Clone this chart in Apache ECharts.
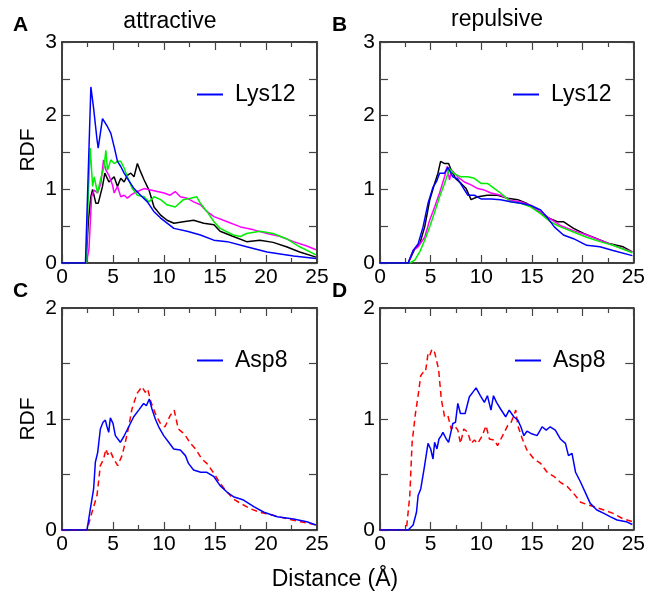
<!DOCTYPE html>
<html>
<head>
<meta charset="utf-8">
<script src="https://cdn.jsdelivr.net/npm/echarts@6/dist/echarts.min.js"></script>
<style>
  html, body { margin: 0; padding: 0; background: #fff; }
  #chart { width: 648px; height: 591px; }
</style>
</head>
<body>
<div id="chart"></div>
<script>
// RDF curves, [distance (Å), g(r)]
const attrBlue = [[0,0],[2.3,0],[2.5,0.9],[2.83,2.39],[3.1,2.1],[3.42,1.69],[3.55,1.56],[3.97,1.96],[4.13,1.98],[4.46,1.85],[4.79,1.76],[5.11,1.58],[5.44,1.38],[5.76,1.31],[6.09,1.22],[6.41,1.15],[7.06,1.01],[7.7,0.92],[8.37,0.83],[9.0,0.70],[9.67,0.61],[10.97,0.47],[12.27,0.43],[13.57,0.38],[14.88,0.31],[16.2,0.29],[18.1,0.22],[20.1,0.15],[22.7,0.095],[24.9,0.06]];
const attrBlack = [[2.35,0],[2.6,0.6],[2.83,0.9],[3.0,1.0],[3.32,0.81],[3.55,0.81],[3.97,1.04],[4.2,1.22],[4.6,1.1],[5.11,1.17],[5.44,1.04],[5.76,1.15],[6.09,1.1],[6.41,1.19],[6.74,1.22],[7.06,1.17],[7.39,1.35],[7.7,1.24],[8.04,1.13],[8.53,0.99],[9.02,0.76],[9.67,0.65],[10.3,0.58],[10.97,0.54],[11.9,0.56],[12.9,0.58],[13.9,0.54],[14.9,0.52],[15.5,0.43],[16.8,0.36],[18.1,0.29],[19.4,0.31],[20.7,0.28],[22.0,0.22],[23.3,0.15],[24.9,0.08]];
const attrGreen = [[2.35,0],[2.6,1.0],[2.77,1.56],[3.0,1.04],[3.16,1.17],[3.48,0.95],[3.81,1.15],[4.13,1.31],[4.3,1.53],[4.46,1.26],[4.79,1.40],[5.11,1.35],[5.44,1.38],[5.76,1.38],[6.09,1.29],[6.41,1.17],[6.9,1.01],[7.39,0.92],[8.04,0.90],[8.53,0.83],[9.02,0.9],[9.67,0.86],[10.3,0.79],[11.1,0.76],[11.9,0.86],[12.6,0.88],[13.2,0.9],[13.57,0.81],[14.2,0.70],[14.9,0.56],[15.5,0.47],[16.8,0.38],[17.5,0.36],[18.1,0.40],[19.4,0.43],[20.7,0.40],[22.0,0.33],[23.3,0.22],[24.9,0.11]];
const attrMagenta = [[2.4,0],[2.65,0.2],[2.9,0.9],[3.16,0.99],[3.48,0.95],[3.81,1.08],[4.07,1.40],[4.3,1.26],[4.6,1.19],[4.95,1.06],[5.11,0.95],[5.44,1.04],[5.76,0.9],[6.09,0.92],[6.41,0.88],[6.74,0.92],[7.06,0.95],[7.39,0.97],[8.04,1.01],[8.7,0.99],[9.34,0.97],[10.0,0.95],[10.6,0.92],[11.1,0.97],[11.6,0.9],[12.27,0.88],[12.9,0.83],[13.57,0.79],[14.2,0.70],[14.9,0.63],[16.2,0.56],[17.5,0.49],[18.8,0.45],[20.1,0.40],[21.4,0.36],[22.7,0.29],[24.0,0.23],[24.9,0.18]];

const repBlue = [[0,0],[2.78,0],[3.27,0.17],[3.76,0.26],[4.25,0.49],[4.74,0.81],[5.23,1.03],[5.56,1.10],[5.88,1.22],[6.37,1.22],[6.7,1.30],[7.19,1.17],[7.68,1.14],[8.17,1.03],[8.66,0.92],[9.31,0.92],[9.97,0.87],[10.95,0.87],[11.9,0.86],[12.9,0.83],[13.9,0.81],[14.9,0.78],[15.85,0.72],[16.5,0.62],[17.2,0.49],[18.1,0.38],[19.1,0.33],[20.4,0.24],[21.7,0.22],[23.0,0.17],[24.9,0.10]];
const repBlack = [[2.78,0],[3.43,0.19],[3.92,0.26],[4.41,0.49],[4.9,0.85],[5.39,1.08],[5.72,1.22],[5.98,1.38],[6.37,1.35],[6.77,1.35],[7.03,1.26],[7.5,1.14],[8.0,1.08],[8.5,1.01],[8.99,0.86],[9.64,0.90],[10.6,0.92],[11.6,0.92],[12.6,0.88],[13.6,0.86],[14.5,0.81],[15.5,0.71],[16.5,0.62],[17.5,0.56],[18.1,0.56],[19.1,0.47],[20.1,0.40],[21.4,0.33],[22.7,0.26],[24.0,0.22],[24.9,0.15]];
const repMagenta = [[2.78,0],[3.27,0.17],[3.76,0.22],[4.41,0.35],[4.9,0.58],[5.39,0.76],[5.88,0.95],[6.37,1.17],[6.63,1.31],[6.86,1.13],[7.09,1.26],[7.68,1.17],[8.33,1.10],[8.99,1.06],[9.64,1.01],[10.3,0.99],[10.95,0.95],[11.9,0.92],[12.9,0.85],[13.9,0.83],[14.9,0.78],[15.85,0.69],[16.8,0.60],[17.8,0.51],[19.1,0.44],[20.4,0.38],[21.7,0.31],[23.0,0.24],[24.9,0.15]];
const repGreen = [[2.95,0],[3.43,0.04],[3.92,0.15],[4.41,0.31],[4.9,0.49],[5.39,0.69],[5.88,0.90],[6.37,1.08],[6.86,1.28],[7.35,1.21],[8.0,1.17],[8.66,1.17],[9.31,1.15],[9.97,1.08],[10.6,1.08],[11.3,1.01],[11.9,0.95],[12.9,0.83],[13.9,0.81],[14.9,0.76],[15.85,0.67],[16.8,0.56],[17.8,0.49],[19.1,0.42],[20.4,0.35],[21.7,0.29],[23.0,0.24],[24.9,0.14]];

const attrAspBlue = [[0,0],[2.45,0],[2.78,0.19],[3.1,0.37],[3.27,0.61],[3.5,0.70],[3.76,0.91],[4.02,0.97],[4.25,0.99],[4.41,0.93],[4.58,0.88],[4.74,1.01],[5.0,0.96],[5.23,0.85],[5.72,0.79],[6.05,0.84],[6.54,0.93],[7.03,1.02],[7.52,1.08],[8.0,1.14],[8.27,1.12],[8.56,1.18],[8.82,1.09],[9.15,1.0],[9.48,0.93],[9.97,0.85],[10.46,0.79],[10.95,0.73],[11.6,0.72],[12.1,0.67],[12.4,0.60],[12.9,0.54],[13.6,0.52],[14.2,0.52],[14.9,0.48],[15.5,0.40],[16.2,0.34],[16.8,0.30],[17.8,0.27],[18.8,0.21],[19.8,0.16],[21.1,0.12],[22.7,0.10],[24.0,0.075],[24.9,0.045]];
const attrAspRed = [[0,0],[2.45,0],[2.94,0.16],[3.43,0.31],[3.76,0.58],[4.08,0.64],[4.31,0.73],[4.48,0.68],[4.74,0.71],[5.07,0.64],[5.46,0.58],[5.88,0.67],[6.21,0.79],[6.54,0.93],[6.86,1.09],[7.35,1.23],[7.84,1.29],[8.17,1.24],[8.4,1.27],[8.73,1.15],[9.15,1.05],[9.64,0.96],[10.1,0.93],[10.6,1.03],[11.0,1.08],[11.4,0.91],[11.8,0.88],[12.1,0.85],[12.6,0.78],[13.1,0.73],[13.7,0.64],[14.2,0.60],[14.9,0.51],[15.5,0.42],[16.2,0.34],[16.8,0.28],[17.5,0.24],[18.5,0.19],[19.4,0.16],[20.8,0.13],[22.1,0.10],[23.4,0.075],[24.9,0.045]];

const repAspBlue = [[0,0],[2.78,0],[3.27,0.045],[3.6,0.16],[3.76,0.31],[4.02,0.37],[4.35,0.55],[4.74,0.78],[5.0,0.73],[5.23,0.64],[5.39,0.79],[5.62,0.73],[5.82,0.82],[6.05,0.85],[6.21,0.88],[6.54,0.82],[6.77,0.79],[7.19,0.96],[7.45,0.97],[7.68,1.14],[7.94,1.05],[8.4,1.05],[8.82,1.20],[9.15,1.24],[9.48,1.28],[9.9,1.21],[10.3,1.15],[10.6,1.21],[10.95,1.08],[11.2,1.21],[11.5,1.15],[11.9,1.09],[12.4,1.02],[12.75,1.08],[13.2,1.02],[13.6,0.99],[13.9,0.93],[14.2,0.85],[14.5,0.89],[14.9,0.87],[15.5,0.85],[16.0,0.93],[16.4,0.90],[16.8,0.93],[17.3,0.90],[17.8,0.82],[18.3,0.78],[18.6,0.67],[18.95,0.69],[19.3,0.52],[19.8,0.43],[20.3,0.33],[20.75,0.24],[21.4,0.18],[22.1,0.15],[22.7,0.12],[23.4,0.09],[24.3,0.075],[24.9,0.05]];
const repAspRed = [[0,0],[2.6,0],[2.94,0.31],[3.17,0.79],[3.5,1.05],[3.76,1.21],[4.02,1.39],[4.25,1.42],[4.48,1.42],[4.74,1.59],[4.9,1.57],[5.13,1.63],[5.39,1.60],[5.78,1.45],[6.05,1.18],[6.37,1.02],[6.7,1.03],[7.03,0.91],[7.35,0.94],[7.68,0.90],[7.94,0.78],[8.27,0.91],[8.66,0.88],[8.99,0.78],[9.31,0.81],[9.64,0.78],[10.1,0.85],[10.46,0.94],[10.8,0.82],[11.3,0.81],[11.6,0.76],[12.1,0.85],[12.6,0.94],[12.9,0.96],[13.4,1.08],[13.6,0.94],[14.05,0.82],[14.5,0.72],[15.2,0.64],[15.85,0.60],[16.5,0.52],[17.2,0.48],[17.8,0.43],[18.5,0.39],[19.1,0.33],[19.8,0.25],[20.75,0.22],[22.1,0.18],[23.0,0.15],[24.0,0.10],[24.9,0.075]];

const yMaxTop = 3, yMaxBottom = 2;

const FONT = 'Liberation Sans';
const panels = [
  { left: 62, top: 42, height: 221, ymax: yMaxTop },
  { left: 380, top: 42, height: 221, ymax: yMaxTop },
  { left: 62, top: 308, height: 222, ymax: yMaxBottom },
  { left: 380, top: 308, height: 222, ymax: yMaxBottom }
];

const grid = [], xAxis = [], yAxis = [];
panels.forEach((p, i) => {
  grid.push({ left: p.left, top: p.top, width: 255, height: p.height });
  const line = { show: true, onZero: false, lineStyle: { color: '#000', width: 1.5 } };
  const tickStyle = { color: '#444', width: 1.2 };
  ['bottom', 'top'].forEach(pos => {
    xAxis.push({
      type: 'value', gridIndex: i, position: pos, min: 0, max: 25, interval: 5,
      axisLine: line,
      axisTick: { show: true, inside: true, length: 8, lineStyle: tickStyle },
      minorTick: { show: true, splitNumber: 2, length: 5, lineStyle: tickStyle },
      axisLabel: { show: pos === 'bottom', color: '#000', fontFamily: FONT, fontSize: 21, margin: 4 },
      splitLine: { show: false }
    });
  });
  ['left', 'right'].forEach(pos => {
    yAxis.push({
      type: 'value', gridIndex: i, position: pos, min: 0, max: p.ymax, interval: 1,
      axisLine: line,
      axisTick: { show: true, inside: true, length: 8, lineStyle: tickStyle },
      minorTick: { show: true, splitNumber: 2, length: 8, lineStyle: tickStyle },
      axisLabel: { show: pos === 'left', color: '#000', fontFamily: FONT, fontSize: 21, margin: 5 },
      splitLine: { show: false }
    });
  });
});

function curve(name, data, panel, color, dashed) {
  return {
    name: name, type: 'line', data: data, xAxisIndex: panel * 2, yAxisIndex: panel * 2,
    showSymbol: false, symbol: 'none', silent: true, animation: false,
    lineStyle: { color: color, width: 1.5, type: dashed ? [6, 4] : 'solid' },
    itemStyle: { color: color }
  };
}

const series = [
  curve('A black', attrBlack, 0, '#000000'),
  curve('A magenta', attrMagenta, 0, '#ff00ff'),
  curve('A green', attrGreen, 0, '#00ee00'),
  curve('Lys12', attrBlue, 0, '#0000ff'),
  curve('B black', repBlack, 1, '#000000'),
  curve('B magenta', repMagenta, 1, '#ff00ff'),
  curve('B green', repGreen, 1, '#00ee00'),
  curve('Lys12', repBlue, 1, '#0000ff'),
  curve('C red', attrAspRed, 2, '#ff0000', true),
  curve('Asp8', attrAspBlue, 2, '#0000ff'),
  curve('D red', repAspRed, 3, '#ff0000', true),
  curve('Asp8', repAspBlue, 3, '#0000ff')
];

function legendAt(left, top, name) {
  return {
    left: left, top: top, data: [name], selectedMode: false,
    icon: 'rect', itemWidth: 26, itemHeight: 2, itemGap: 0,
    textStyle: { fontFamily: FONT, fontSize: 23, color: '#000', padding: [0, 0, 0, 7] }
  };
}

const txt = (x, y, s, size, extra) => ({
  type: 'text', x: x, y: y,
  style: Object.assign({ text: s, fontFamily: FONT, fontSize: size, fill: '#000', verticalAlign: 'top' }, extra || {})
});

const option = {
  backgroundColor: '#fff',
  animation: false,
  grid: grid, xAxis: xAxis, yAxis: yAxis, series: series,
  legend: [
    legendAt(192, 78, 'Lys12'),
    legendAt(508, 78, 'Lys12'),
    legendAt(192, 344, 'Asp8'),
    legendAt(510, 344, 'Asp8')
  ],
  graphic: [
    txt(13, 15, 'A', 21, { fontWeight: 'bold' }),
    txt(332, 15, 'B', 21, { fontWeight: 'bold' }),
    txt(13, 281, 'C', 21, { fontWeight: 'bold' }),
    txt(332, 281, 'D', 21, { fontWeight: 'bold' }),
    txt(170, 10, 'attractive', 23, { align: 'center' }),
    txt(497, 8, 'repulsive', 23, { align: 'center' }),
    txt(335, 568, 'Distance (Å)', 23, { align: 'center' }),
    { type: 'text', x: 28, y: 150, rotation: Math.PI / 2,
      style: { text: 'RDF', fontFamily: FONT, fontSize: 21, fill: '#000', align: 'center', verticalAlign: 'middle' } },
    { type: 'text', x: 28, y: 419, rotation: Math.PI / 2,
      style: { text: 'RDF', fontFamily: FONT, fontSize: 21, fill: '#000', align: 'center', verticalAlign: 'middle' } }
  ]
};

const chart = echarts.init(document.getElementById('chart'));
chart.setOption(option);
</script>
</body>
</html>
